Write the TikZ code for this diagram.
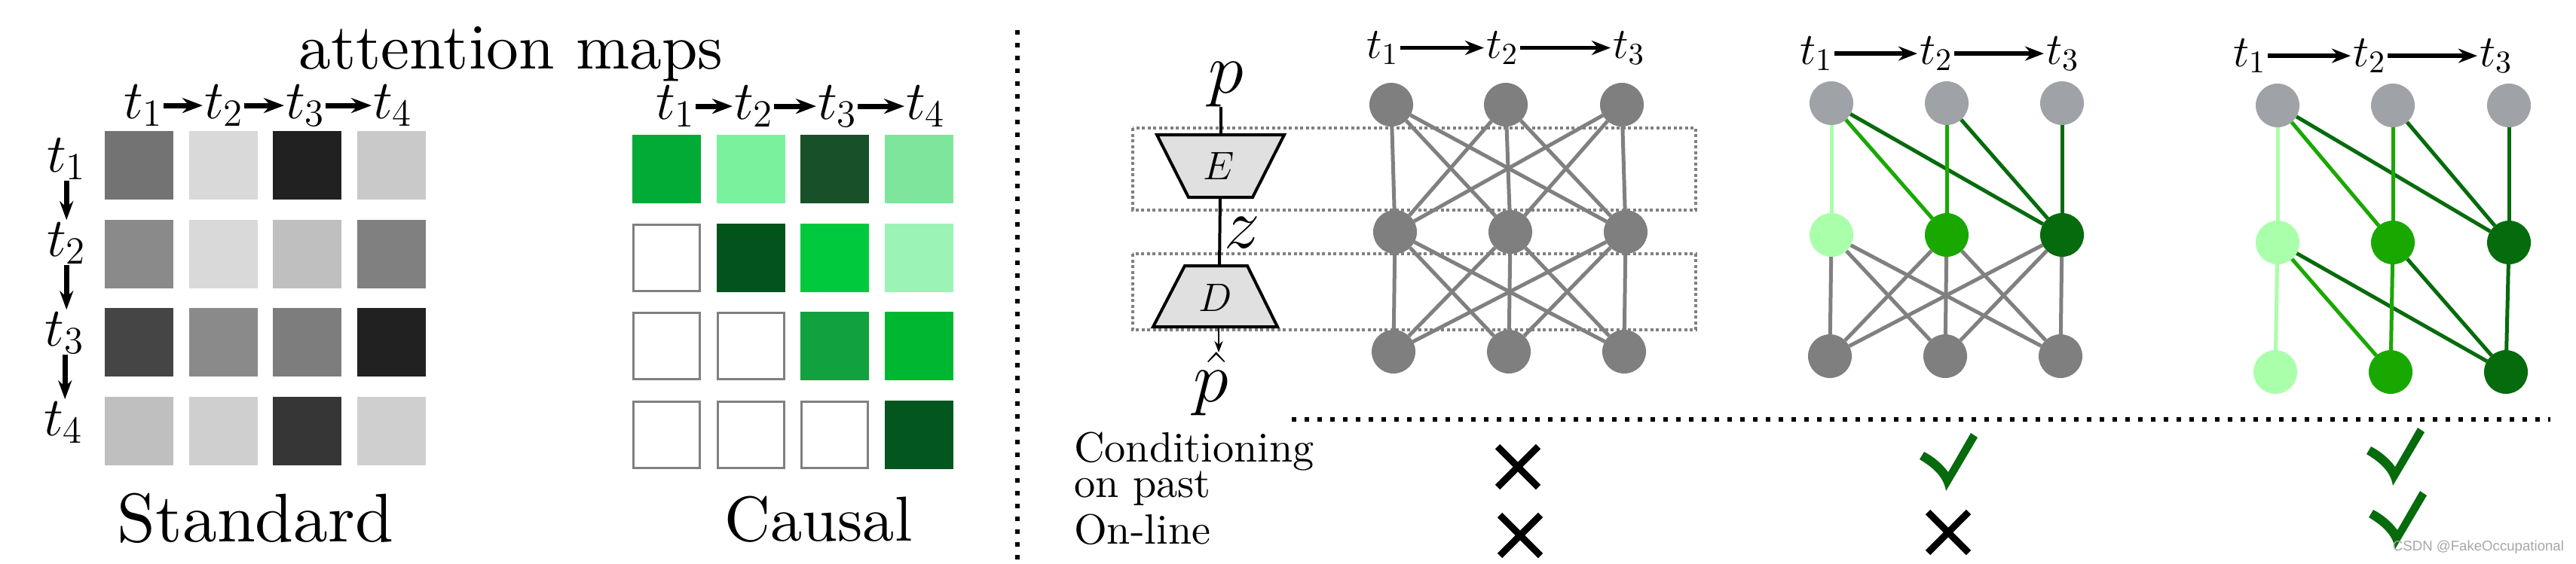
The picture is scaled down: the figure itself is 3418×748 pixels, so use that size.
\RequirePackage{fix-cm}
\documentclass[tikz,border=0pt]{standalone}
\usepackage{fontspec}
\newfontfamily\wmfont{Liberation Sans}
\newfontfamily\tenrm{lmroman10-regular}[Extension=.otf]
\usetikzlibrary{arrows.meta}
\pgfdeclarelayer{background}
\pgfsetlayers{background,main}
\newcommand\fsz[1]{\fontsize{#1}{#1}\selectfont}
\definecolor{ngtop}{HTML}{9FA2A6}
\definecolor{ngray}{HTML}{7F7F7F}
\definecolor{egray}{HTML}{808080}
\definecolor{lgreen}{HTML}{AAFFAA}
\definecolor{mgreen}{HTML}{19A800}
\definecolor{dgreen}{HTML}{066B0C}
\definecolor{encfill}{HTML}{E0E0E0}
\definecolor{ca}{HTML}{02AA36}
\definecolor{cb}{HTML}{7AF29D}
\definecolor{cc}{HTML}{18502A}
\definecolor{cd}{HTML}{7DE69C}
\definecolor{ce}{HTML}{03531C}
\definecolor{cf}{HTML}{01C93D}
\definecolor{cg}{HTML}{9BF4B5}
\definecolor{ch}{HTML}{12A13F}
\definecolor{ci}{HTML}{00B731}
\definecolor{cj}{HTML}{03561E}
\begin{document}
\begin{tikzpicture}[x=0.01cm,y=-0.01cm,
  tl/.style={inner sep=0pt, outer sep=0pt, anchor=base west},
  bigt/.style={tl, font=\fsz{20.7pt}},
  nett/.style={tl, font=\fsz{16.5pt}},
  nettb/.style={tl, font=\fsz{17pt}},
  harr/.style={line width=0.07cm, -{Stealth[length=0.27cm,width=0.2cm]}, shorten >=0.02cm, shorten <=0.01cm},
  varr/.style={line width=0.07cm, -{Stealth[length=0.25cm,width=0.18cm]}, shorten <=0.01cm, shorten >=0.03cm},
  narr/.style={line width=0.058cm, -{Stealth[length=0.25cm,width=0.19cm]}, shorten >=0.03cm, shorten <=0.02cm},
  nd/.style={circle, inner sep=0pt, outer sep=0pt, minimum size=0.58cm, fill=#1},
  ed/.style={line width=0.05cm, draw=#1},
  drect/.style={draw=egray, line width=0.045cm, dash pattern=on 0.04cm off 0.035cm},
  sepl/.style={line width=0.055cm, dash pattern=on 0.06cm off 0.11cm},
  enc/.style={draw=black, fill=encfill, line width=0.04cm, line join=miter},
  blk/.style={line width=0.04cm},
  crossm/.style={line width=0.09cm, line cap=butt},
  txt/.style={inner sep=0pt, outer sep=0pt}
]
\useasboundingbox (0,0) rectangle (3418,748);

% ---------- left panel ----------
\node[txt, anchor=base, font=\tenrm\fsz{24.3pt}] (title) at (678,91) {attention maps};

% standard grid
\foreach \i/\j/\g in {0/0/55,1/0/15,2/0/87,3/0/21,
                      0/1/46,1/1/15,2/1/25,3/1/50,
                      0/2/73,1/2/46,2/2/51,3/2/87,
                      0/3/25,1/3/19,2/3/79,3/3/19}
  \fill[black!\g] ({139+111.7*\i},{174+117.7*\j}) rectangle ++(91,91);

% causal grid
\foreach \i/\j/\cl in {0/0/ca,1/0/cb,2/0/cc,3/0/cd,
                       1/1/ce,2/1/cf,3/1/cg,
                       2/2/ch,3/2/ci,
                       3/3/cj}
  \fill[\cl] ({839+111.7*\i},{179+117.7*\j}) rectangle ++(91,91);
\foreach \i/\j in {0/1,0/2,1/2,0/3,1/3,2/3}
  \draw[egray, line width=0.03cm] ({839+111.7*\i+1.5},{179+117.7*\j+1.5}) rectangle ++(88,88);

% standard labels
\node[bigt] (s1) at (164,157) {$t_1$};
\node[bigt] (s2) at (271,157) {$t_2$};
\node[bigt] (s3) at (379,157) {$t_3$};
\node[bigt] (s4) at (495,157) {$t_4$};
\draw[harr] (s1) -- (s2);
\draw[harr] (s2) -- (s3);
\draw[harr] (s3) -- (s4);

\node[bigt] (r1) at (62,228) {$t_1$};
\node[bigt] (r2) at (62,340) {$t_2$};
\node[bigt] (r3) at (60,459) {$t_3$};
\node[bigt] (r4) at (58,578) {$t_4$};
\draw[varr] (r1.south) -- (r1.south |- r2.north);
\draw[varr] (r2.south) -- (r2.south |- r3.north);
\draw[varr] (r3.south) -- (r3.south |- r4.north);

% causal labels
\node[bigt] (q1) at (870,158) {$t_1$};
\node[bigt] (q2) at (974,158) {$t_2$};
\node[bigt] (q3) at (1085,158) {$t_3$};
\node[bigt] (q4) at (1202,158) {$t_4$};
\draw[harr] (q1) -- (q2);
\draw[harr] (q2) -- (q3);
\draw[harr] (q3) -- (q4);

\node[txt, anchor=base, font=\tenrm\fsz{26pt}] (std) at (339,719) {Standard};
\node[txt, anchor=base, font=\tenrm\fsz{24pt}] (cau) at (1086,718) {Causal};

% separator
\draw[sepl] (1350,40) -- (1350,745);

% ---------- encoder / decoder ----------
\node[txt, font=\fsz{27pt}] (p) at (1627,112) {$p$};
\draw[enc] (1535,179) -- (1704,179) -- (1662,262) -- (1577,262) -- cycle;
\draw[enc] (1572,353) -- (1655,353) -- (1695,434) -- (1530,434) -- cycle;
\coordinate (Etop) at (1620,179);
\coordinate (Ebot) at (1619,262);
\coordinate (Dtop) at (1618,353);
\coordinate (Dbot) at (1617,434);
\node[txt, font=\fsz{15pt}] (E) at (1617,220) {$E$};
\node[txt, font=\fsz{15pt}] (D) at (1613,395) {$D$};
\node[txt, font=\fsz{27pt}] (z) at (1648,309) {$z$};
\node[txt, anchor=north, font=\fsz{27pt}] (phat) at (1607,468) {$\hat{p}$};
\draw[blk] (Etop |- p.south) -- (Etop);
\draw[blk] (Ebot) -- (Dtop);
\draw[line width=0.028cm, -{Stealth[length=0.15cm,width=0.11cm]}] (Dbot) -- (Dbot |- phat.north);

% ---------- network 1 ----------
\node[nett] (a1) at (1813,77) {$t_1$};
\node[nett] (a2) at (1972,77) {$t_2$};
\node[nett] (a3) at (2140,77) {$t_3$};
\draw[narr] (a1) -- (a2);
\draw[narr] (a2) -- (a3);
\node[nd=ngray] (n1t1) at (1846,139) {};
\node[nd=ngray] (n1t2) at (1998,139) {};
\node[nd=ngray] (n1t3) at (2152,139) {};
\node[nd=ngray] (n1m1) at (1851,308) {};
\node[nd=ngray] (n1m2) at (2004,308) {};
\node[nd=ngray] (n1m3) at (2157,308) {};
\node[nd=ngray] (n1b1) at (1849,467) {};
\node[nd=ngray] (n1b2) at (2002,467) {};
\node[nd=ngray] (n1b3) at (2155,467) {};

% ---------- network 2 ----------
\node[nettb] (b1) at (2388,85) {$t_1$};
\node[nettb] (b2) at (2547,85) {$t_2$};
\node[nettb] (b3) at (2715,85) {$t_3$};
\draw[narr] (b1) -- (b2);
\draw[narr] (b2) -- (b3);
\node[nd=ngtop] (n2t1) at (2430,137) {};
\node[nd=ngtop] (n2t2) at (2583,137) {};
\node[nd=ngtop] (n2t3) at (2736,137) {};
\node[nd=lgreen] (n2m1) at (2430,312) {};
\node[nd=mgreen] (n2m2) at (2583,312) {};
\node[nd=dgreen] (n2m3) at (2736,312) {};
\node[nd=ngray] (n2b1) at (2428,473) {};
\node[nd=ngray] (n2b2) at (2581,473) {};
\node[nd=ngray] (n2b3) at (2734,473) {};

% ---------- network 3 ----------
\node[nettb] (c1) at (2963,88) {$t_1$};
\node[nettb] (c2) at (3122,88) {$t_2$};
\node[nettb] (c3) at (3290,88) {$t_3$};
\draw[narr] (c1) -- (c2);
\draw[narr] (c2) -- (c3);
\node[nd=ngtop] (n3t1) at (3022,140) {};
\node[nd=ngtop] (n3t2) at (3175,140) {};
\node[nd=ngtop] (n3t3) at (3329,140) {};
\node[nd=lgreen] (n3m1) at (3022,322) {};
\node[nd=mgreen] (n3m2) at (3175,322) {};
\node[nd=dgreen] (n3m3) at (3329,322) {};
\node[nd=lgreen] (n3b1) at (3019,494) {};
\node[nd=mgreen] (n3b2) at (3172,494) {};
\node[nd=dgreen] (n3b3) at (3325,494) {};

\begin{pgfonlayer}{background}
\draw[drect] (1503,170) rectangle (2250,279);
\draw[drect] (1503,337) rectangle (2250,438);
\foreach \i in {1,2,3}{
  \foreach \j in {1,2,3}{
    \draw[ed=egray] (n1t\i) -- (n1m\j);
    \draw[ed=egray] (n1m\i) -- (n1b\j);
    \draw[ed=egray] (n2m\i) -- (n2b\j);
  }
}
\foreach \i in {1,2,3}{
  \foreach \j/\cl in {1/lgreen,2/mgreen,3/dgreen}{
    \ifnum\j<\i\relax\else
      \draw[ed=\cl] (n2t\i) -- (n2m\j);
      \draw[ed=\cl] (n3t\i) -- (n3m\j);
      \draw[ed=\cl] (n3m\i) -- (n3b\j);
    \fi
  }
}
\end{pgfonlayer}

% ---------- table ----------
\draw[sepl] (1714,557) -- (3384,557);
\node[tl, font=\tenrm\fsz{16pt}] (cond1) at (1425,613) {Conditioning};
\node[tl, font=\tenrm\fsz{16pt}] (cond2) at (1425,660) {on past};
\node[tl, font=\tenrm\fsz{16pt}] (online) at (1425,722) {On-line};

\foreach \cx/\cy in {2014/620, 2017/711, 2585/707}{
  \begin{scope}[shift={(\cx,\cy)}]
    \draw[crossm] (-27,-27) -- (27,27);
    \draw[crossm] (-27,27) -- (27,-27);
  \end{scope}
}
\foreach \cx/\cy in {2585/613, 3178/606, 3181/690}{
  \begin{scope}[shift={(\cx,\cy)}]
    \fill[dgreen] (-3,39) .. controls (-6,20) and (-20,8) .. (-38,-3) -- (-32,-13)
      .. controls (-20,-7) and (-8,3) .. (0,14) -- (30,-38) -- (39,-32) -- cycle;
  \end{scope}
}

\node[tl, anchor=base east, text=black!35, font=\wmfont\fontsize{5.3pt}{6pt}\selectfont] (wm) at (3402,731) {CSDN @FakeOccupational};
\end{tikzpicture}
\end{document}
